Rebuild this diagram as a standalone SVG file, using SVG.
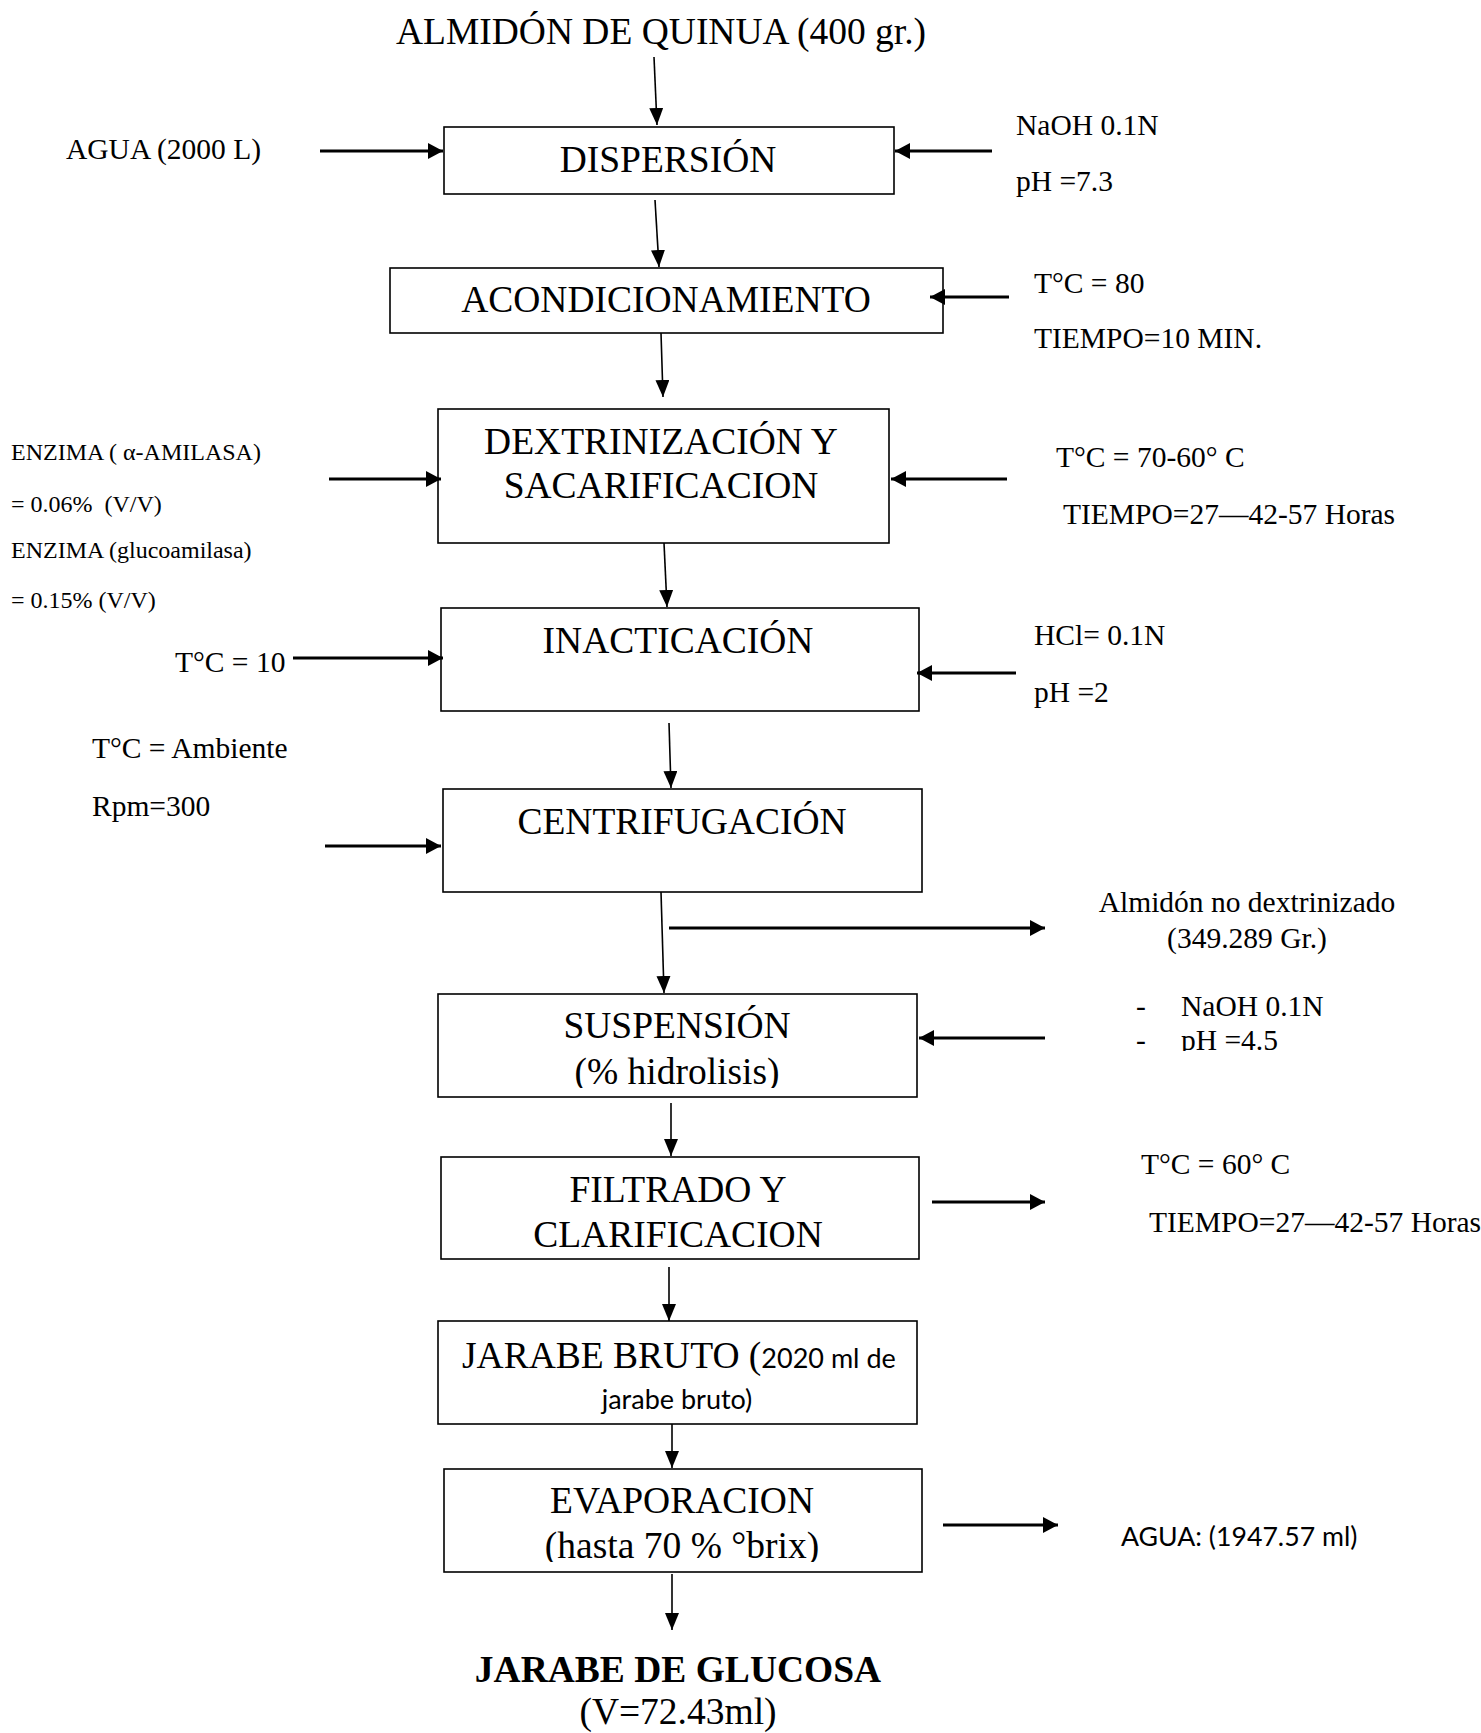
<svg xmlns="http://www.w3.org/2000/svg" width="1481" height="1733" viewBox="0 0 1481 1733">
<style>
.t{font-family:"Liberation Serif","Times New Roman",serif;fill:#000}
.b{font-size:37.5px;text-anchor:middle}
.s{font-size:29.5px}
.e{font-size:24px}
.c{font-family:Lato,"Noto Sans",sans-serif;fill:#000}
.box{fill:none;stroke:#000;stroke-width:1.6}
.v{stroke:#000;stroke-width:1.6;fill:none;marker-end:url(#ah)}
.h{stroke:#000;stroke-width:3.2;fill:none;marker-end:url(#ahb)}
</style>
<defs>
<marker id="ah" markerUnits="userSpaceOnUse" markerWidth="18" markerHeight="16" refX="17" refY="7" orient="auto"><path d="M0,0 L17,7 L0,14 z" fill="#000"/></marker>
<marker id="ahb" markerUnits="userSpaceOnUse" markerWidth="16" markerHeight="18" refX="15" refY="8" orient="auto"><path d="M0,0 L15,8 L0,16 z" fill="#000"/></marker>
<clipPath id="clipPh"><rect x="1100" y="1000" width="300" height="51"/></clipPath>
<clipPath id="clipEv"><rect x="444" y="1520" width="478" height="42"/></clipPath>
<clipPath id="clipSu"><rect x="438" y="1050" width="478" height="38"/></clipPath>
</defs>
<rect width="1481" height="1733" fill="#fff"/>

<g id="title"><text class="t b" x="661" y="44">ALMIDÓN DE QUINUA (400 gr.)</text></g>

<g id="dispersion">
<rect class="box" x="444" y="127" width="450" height="67"/>
<text class="t b" x="668" y="172">DISPERSIÓN</text>
</g>
<g id="acondicionamiento">
<rect class="box" x="390" y="268" width="553" height="65"/>
<text class="t b" x="666" y="312">ACONDICIONAMIENTO</text>
</g>
<g id="dextrinizacion">
<rect class="box" x="438" y="409" width="451" height="134"/>
<text class="t b" x="661" y="454">DEXTRINIZACIÓN Y</text>
<text class="t b" x="661" y="498">SACARIFICACION</text>
</g>
<g id="inacticacion">
<rect class="box" x="441" y="608" width="478" height="103"/>
<text class="t b" x="678" y="653">INACTICACIÓN</text>
</g>
<g id="centrifugacion">
<rect class="box" x="443" y="789" width="479" height="103"/>
<text class="t b" x="682" y="834">CENTRIFUGACIÓN</text>
</g>
<g id="suspension">
<rect class="box" x="438" y="994" width="479" height="103"/>
<text class="t b" x="677" y="1038">SUSPENSIÓN</text>
<text class="t b" x="677" y="1084" clip-path="url(#clipSu)">(% hidrolisis)</text>
</g>
<g id="filtrado">
<rect class="box" x="441" y="1157" width="478" height="102"/>
<text class="t b" x="678" y="1202">FILTRADO Y</text>
<text class="t b" x="678" y="1247">CLARIFICACION</text>
</g>
<g id="jarabe-bruto">
<rect class="box" x="438" y="1321" width="479" height="103"/>
<text x="462" y="1368"><tspan class="t" font-size="37.5">JARABE BRUTO (</tspan><tspan class="c" font-size="27">2020 ml de</tspan></text>
<text class="c" x="677" y="1409" font-size="27" text-anchor="middle">jarabe bruto)</text>
</g>
<g id="evaporacion">
<rect class="box" x="444" y="1469" width="478" height="103"/>
<text class="t b" x="682" y="1513">EVAPORACION</text>
<text class="t b" x="682" y="1558" clip-path="url(#clipEv)">(hasta 70 % °brix)</text>
</g>
<g id="jarabe-glucosa">
<text class="t b" x="678" y="1682" font-weight="bold">JARABE DE GLUCOSA</text>
<text class="t b" x="678" y="1724">(V=72.43ml)</text>
</g>

<g id="connectors">
<line class="v" x1="654" y1="57" x2="657" y2="125"/>
<line class="v" x1="655" y1="200" x2="659" y2="267"/>
<line class="v" x1="661" y1="333" x2="663" y2="397"/>
<line class="v" x1="664" y1="543" x2="667" y2="607"/>
<line class="v" x1="669" y1="723" x2="671" y2="788"/>
<line class="v" x1="661" y1="892" x2="664" y2="993"/>
<line class="v" x1="671" y1="1103" x2="671" y2="1156"/>
<line class="v" x1="669" y1="1267" x2="669" y2="1321"/>
<line class="v" x1="672" y1="1424" x2="672" y2="1468"/>
<line class="v" x1="672" y1="1574" x2="672" y2="1630"/>
<line class="h" x1="320" y1="151" x2="443" y2="151"/>
<line class="h" x1="992" y1="151" x2="895" y2="151"/>
<line class="h" x1="1009" y1="297" x2="930" y2="297"/>
<line class="h" x1="329" y1="479" x2="441" y2="479"/>
<line class="h" x1="1007" y1="479" x2="891" y2="479"/>
<line class="h" x1="293" y1="658" x2="443" y2="658"/>
<line class="h" x1="1016" y1="673" x2="917" y2="673"/>
<line class="h" x1="325" y1="846" x2="441" y2="846"/>
<line class="h" x1="669" y1="928" x2="1045" y2="928"/>
<line class="h" x1="1045" y1="1038" x2="919" y2="1038"/>
<line class="h" x1="932" y1="1202" x2="1045" y2="1202"/>
<line class="h" x1="943" y1="1525" x2="1058" y2="1525"/>
</g>

<g id="labels">
<text class="t s" x="66" y="159">AGUA (2000 L)</text>
<text class="t s" x="1016" y="135">NaOH 0.1N</text>
<text class="t s" x="1016" y="191">pH =7.3</text>
<text class="t s" x="1034" y="293">T°C = 80</text>
<text class="t s" x="1034" y="348">TIEMPO=10 MIN.</text>
<text class="t e" x="11" y="460">ENZIMA ( α-AMILASA)</text>
<text class="t e" x="11" y="512" xml:space="preserve">= 0.06%  (V/V)</text>
<text class="t e" x="11" y="558">ENZIMA (glucoamilasa)</text>
<text class="t e" x="11" y="608">= 0.15% (V/V)</text>
<text class="t s" x="1056" y="467">T°C = 70-60° C</text>
<text class="t s" x="1063" y="524">TIEMPO=27—42-57 Horas</text>
<text class="t s" x="175" y="672">T°C = 10</text>
<text class="t s" x="1034" y="645">HCl= 0.1N</text>
<text class="t s" x="1034" y="702">pH =2</text>
<text class="t s" x="92" y="758">T°C = Ambiente</text>
<text class="t s" x="92" y="816">Rpm=300</text>
<text class="t s" x="1247" y="912" text-anchor="middle">Almidón no dextrinizado</text>
<text class="t s" x="1247" y="948" text-anchor="middle">(349.289 Gr.)</text>
<text class="t s" x="1136" y="1016">-</text>
<text class="t s" x="1181" y="1016">NaOH 0.1N</text>
<g clip-path="url(#clipPh)">
<text class="t s" x="1136" y="1050">-</text>
<text class="t s" x="1181" y="1050">pH =4.5</text>
</g>
<text class="t s" x="1141" y="1174">T°C = 60° C</text>
<text class="t s" x="1149" y="1232">TIEMPO=27—42-57 Horas</text>
<text class="c" x="1121" y="1546" font-size="26.7">AGUA: (1947.57 ml)</text>
</g>
</svg>
